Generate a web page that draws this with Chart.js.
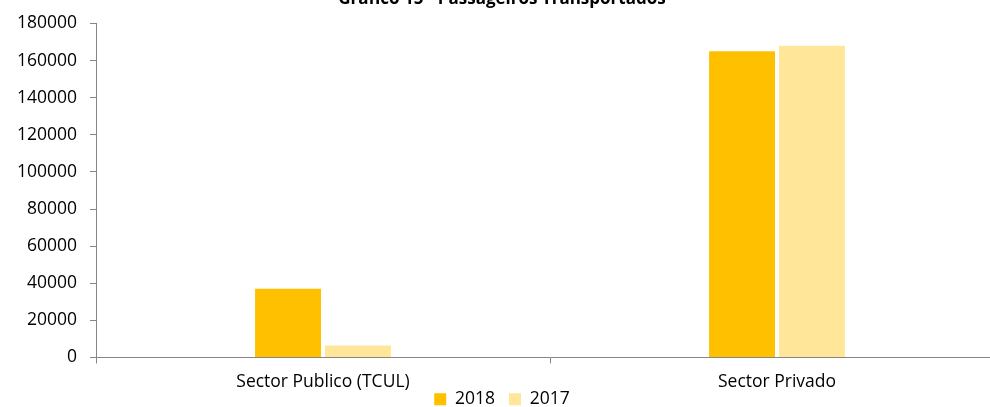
<!DOCTYPE html>
<html>
<head>
<meta charset="utf-8">
<script src="https://cdn.jsdelivr.net/npm/chart.js@4.4.0/dist/chart.umd.min.js"></script>
<style>
    html, body { margin: 0; padding: 0; background: #fff; }
    #wrap { position: relative; width: 990px; height: 407px; overflow: hidden; }
    #box { position: absolute; left: 0; top: -11px; width: 1030px; height: 453px; }
</style>
</head>
<body>
<div id="wrap"><div id="box"><canvas id="chart"></canvas></div></div>
<script>
// dados do grafico
const categorias = ['Sector Publico (TCUL)', 'Sector Privado'];
const anos = ['2018', '2017'];
const valores2018 = [37000, 165000];
const valores2017 = [6500, 168000];
const coresAnos = ['#FFC000', '#FFE699'];

const eixoCor = '#868686';
const fonte = "'Open Sans', sans-serif";

// sobe a legenda para ficar junto dos rotulos do eixo x
const subirLegenda = {
    id: 'subirLegenda',
    afterLayout(chart) {
        const leg = chart.legend;
        if (leg) {
            leg.top -= 24;
            leg.bottom -= 24;
        }
    }
};

const ctx = document.getElementById('chart').getContext('2d');

new Chart(ctx, {
    type: 'bar',
    data: {
        labels: categorias,
        datasets: [
            {
                label: anos[0],
                data: valores2018,
                backgroundColor: coresAnos[0],
                categoryPercentage: 0.308,
                barPercentage: 0.943
            },
            {
                label: anos[1],
                data: valores2017,
                backgroundColor: coresAnos[1],
                categoryPercentage: 0.308,
                barPercentage: 0.943
            }
        ]
    },
    plugins: [subirLegenda],
    options: {
        responsive: true,
        maintainAspectRatio: false,
        animation: false,
        layout: {
            padding: { left: 0, right: 26, top: 0, bottom: 0 }
        },
        plugins: {
            title: {
                display: true,
                text: 'Gráfico 15 - Passageiros Transportados',
                color: '#000',
                font: { family: fonte, size: 17, weight: 'bold' },
                padding: { top: 0, bottom: 14 }
            },
            legend: {
                position: 'bottom',
                labels: {
                    color: '#000',
                    font: { family: fonte, size: 17.5, lineHeight: 1 },
                    boxWidth: 12,
                    boxHeight: 12,
                    padding: 14
                }
            },
            tooltip: { enabled: false }
        },
        scales: {
            x: {
                grid: {
                    display: true,
                    offset: true,
                    drawOnChartArea: false,
                    drawTicks: true,
                    tickLength: 6,
                    color: eixoCor
                },
                border: { color: eixoCor, width: 1 },
                ticks: {
                    color: '#000',
                    font: { family: fonte, size: 17.5 },
                    padding: 8
                }
            },
            y: {
                min: 0,
                max: 180000,
                afterFit: function(scale) {
                    scale.width = 96;
                },
                grid: {
                    display: true,
                    drawOnChartArea: false,
                    drawTicks: true,
                    tickLength: 6,
                    color: eixoCor
                },
                border: { color: eixoCor, width: 1 },
                ticks: {
                    stepSize: 20000,
                    color: '#000',
                    font: { family: fonte, size: 17.5 },
                    padding: 13,
                    callback: function(value) {
                        return String(value);
                    }
                }
            }
        }
    }
});
</script>
</body>
</html>
